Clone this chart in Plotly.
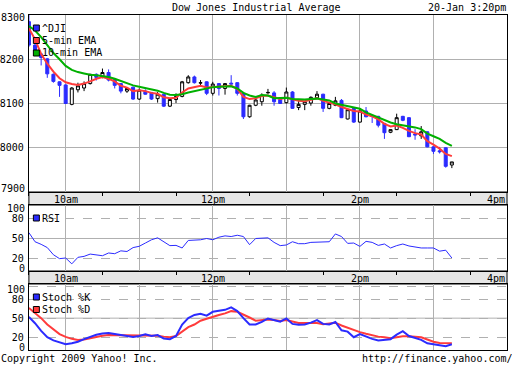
import pandas as pd
import plotly.graph_objects as go

# ---------------- data ----------------
times = pd.date_range("2009-01-20 09:30", periods=70, freq="5min")

opens = [8285, 8232, 8212, 8201, 8166, 8149, 8142, 8098, 8131, 8135,
         8145, 8166, 8160, 8170, 8154, 8145, 8128, 8137, 8110, 8128,
         8125, 8111, 8121, 8094, 8109, 8116, 8147, 8160, 8146, 8149,
         8123, 8145, 8134, 8146, 8147, 8123, 8070, 8096, 8104, 8124,
         8124, 8109, 8102, 8126, 8091, 8098, 8101, 8113, 8121, 8089,
         8096, 8107, 8065, 8089, 8058, 8083, 8073, 8071, 8055, 8035,
         8041, 8071, 8068, 8031, 8027, 8036, 8002, 7993, 8000, 7961]
highs = [8300, 8240, 8214, 8203, 8168, 8150, 8143, 8137, 8147, 8150,
         8167, 8168, 8179, 8177, 8156, 8146, 8137, 8138, 8134, 8132,
         8126, 8126, 8122, 8110, 8123, 8151, 8164, 8163, 8153, 8150,
         8149, 8146, 8146, 8164, 8148, 8124, 8097, 8110, 8123, 8133,
         8128, 8110, 8136, 8128, 8109, 8104, 8116, 8128, 8122, 8101,
         8115, 8110, 8087, 8090, 8089, 8092, 8074, 8072, 8056, 8042,
         8077, 8072, 8069, 8042, 8049, 8037, 8003, 8002, 8001, 7968]
lows = [8228, 8212, 8186, 8158, 8147, 8115, 8099, 8096, 8125, 8128,
        8143, 8152, 8157, 8150, 8134, 8123, 8124, 8108, 8108, 8120,
        8108, 8102, 8092, 8092, 8101, 8114, 8145, 8145, 8138, 8119,
        8118, 8118, 8120, 8143, 8118, 8065, 8068, 8094, 8095, 8122,
        8095, 8099, 8100, 8088, 8085, 8085, 8095, 8112, 8081, 8087,
        8094, 8067, 8064, 8056, 8057, 8069, 8056, 8046, 8020, 8033,
        8040, 8060, 8024, 8018, 8020, 8001, 7986, 7987, 7955, 7954]
closes = [8232, 8220, 8204, 8167, 8150, 8141, 8100, 8135, 8140, 8145,
          8166, 8159, 8170, 8153, 8141, 8128, 8134, 8110, 8130, 8121,
          8110, 8121, 8094, 8109, 8116, 8149, 8160, 8147, 8147, 8123,
          8144, 8134, 8145, 8144, 8123, 8070, 8096, 8108, 8119, 8125,
          8104, 8100, 8126, 8089, 8098, 8104, 8114, 8121, 8089, 8100,
          8106, 8068, 8086, 8058, 8083, 8070, 8071, 8051, 8034, 8041,
          8068, 8062, 8025, 8029, 8036, 8002, 7992, 7991, 7958, 7968]

ema5 = [8270, 8245, 8212, 8190, 8172, 8157, 8148, 8144, 8142, 8145,
        8150, 8156, 8160, 8156, 8150, 8140, 8136, 8128, 8130, 8128,
        8124, 8122, 8114, 8112, 8113, 8125, 8134, 8137, 8140, 8136,
        8137, 8137, 8139, 8140, 8133, 8115, 8110, 8112, 8117, 8118,
        8114, 8110, 8113, 8109, 8106, 8105, 8108, 8112, 8106, 8102,
        8098, 8092, 8088, 8083, 8082, 8075, 8071, 8064, 8054, 8048,
        8050, 8045, 8038, 8033, 8030, 8015, 8007, 7998, 7986, 7981]
ema10 = [8275, 8265, 8250, 8232, 8214, 8200, 8185, 8176, 8171, 8168,
         8165, 8164, 8162, 8160, 8156, 8151, 8146, 8141, 8138, 8135,
         8132, 8129, 8124, 8120, 8119, 8121, 8125, 8128, 8132, 8134,
         8137, 8138, 8139, 8139, 8134, 8124, 8118, 8115, 8119, 8118,
         8112, 8112, 8113, 8110, 8109, 8109, 8110, 8111, 8109, 8107,
         8100, 8097, 8094, 8091, 8088, 8080, 8074, 8069, 8063, 8057,
         8053, 8051, 8049, 8046, 8042, 8032, 8026, 8020, 8011, 8004]

rsi = [59, 45, 41, 36, 25, 19, 20, 11, 21, 22.5,
       26, 25, 23.5, 27.7, 26.6, 31, 30, 36, 38, 43,
       48, 51, 45, 39, 39.4, 35.4, 47, 47, 48, 50,
       48, 52, 54, 53, 55, 53, 40.5, 50, 51, 51,
       44, 39, 40, 45, 42, 42, 44, 44, 44, 45,
       57, 53, 42.5, 43, 37.8, 45.6, 44, 39.4, 41.5, 35.4,
       39, 41.5, 38.5, 36.5, 35.4, 35.4, 35.4, 30.5, 32, 20]

stoch_k = [52, 42, 30, 20, 15, 12.5, 9, 10.5, 13, 17,
           20.5, 24, 26, 26.5, 25, 23.6, 23, 20.5, 22, 24.5,
           22, 23.5, 18, 17, 22, 40, 50, 55, 57, 54,
           60, 61, 63, 67, 61, 50, 40, 40, 44, 49.5,
           47, 44.5, 49.5, 41, 39.5, 40, 43, 47, 41, 40,
           44, 31, 28.8, 20, 25, 21, 17.5, 15, 15.5, 17,
           24, 29.5, 22, 19.5, 16, 10.5, 9, 8, 6, 9]
stoch_d = [66, 58, 50, 40, 32, 25, 20.5, 17.5, 15.8, 16.5,
           18.5, 21, 22.5, 23.6, 23.6, 23.6, 23, 22.5, 22.5, 22.5,
           22.5, 22.5, 21, 20, 22, 29, 36, 40, 46, 49,
           52.5, 55, 57.5, 61, 60, 56, 51, 46, 46.5, 48,
           47, 45.5, 47, 44.5, 42.5, 42.5, 42.7, 42.5, 40.5, 42,
           42.9, 38.5, 35, 31, 28, 25.5, 23, 21, 20, 18.5,
           20, 21.5, 21.5, 21, 20, 16.5, 13, 11, 10.6, 10.6]

main_ticks = [7900, 8000, 8100, 8200, 8300]
osc_ticks = [0, 20, 50, 80, 100]
time_labels = ["10am", "12pm", "2pm", "4pm"]
time_label_at = ["2009-01-20 10:00", "2009-01-20 12:00", "2009-01-20 14:00", "2009-01-20 16:00"]

# ---------------- style ----------------
W, H = 512, 365
BLUE = "#2b2bff"
RED = "#ff3b3b"
GREEN = "#00b000"
GRID = "#b0b0b0"
BAND = "#e6e6e6"
FONT = dict(family="DejaVu Sans Mono", size=10, color="black")


def px(x):
    return x / W


def py(y):
    return 1 - y / H


X0, X1 = 27, 507
panels = {"main": (15, 192), "rsi": (205, 271), "sto": (284, 350)}

fig = go.Figure()
fig.add_trace(go.Candlestick(
    x=times, open=opens, high=highs, low=lows, close=closes,
    increasing=dict(line=dict(color="black", width=1), fillcolor="white"),
    decreasing=dict(line=dict(color=BLUE, width=1), fillcolor=BLUE),
    whiskerwidth=0, showlegend=False, xaxis="x", yaxis="y", hoverinfo="skip"))
fig.add_trace(go.Scatter(x=times, y=ema5, mode="lines", line=dict(color=RED, width=2),
                         showlegend=False, xaxis="x", yaxis="y"))
fig.add_trace(go.Scatter(x=times, y=ema10, mode="lines", line=dict(color=GREEN, width=2),
                         showlegend=False, xaxis="x", yaxis="y"))
fig.add_trace(go.Scatter(x=times, y=rsi, mode="lines", line=dict(color=BLUE, width=1),
                         showlegend=False, xaxis="x2", yaxis="y2"))
fig.add_trace(go.Scatter(x=times, y=stoch_d, mode="lines", line=dict(color=RED, width=2),
                         showlegend=False, xaxis="x3", yaxis="y3"))
fig.add_trace(go.Scatter(x=times, y=stoch_k, mode="lines", line=dict(color=BLUE, width=2),
                         showlegend=False, xaxis="x3", yaxis="y3"))

xrange = ["2009-01-20 09:30", "2009-01-20 16:00"]
xcommon = dict(type="date", range=xrange, domain=[px(X0), px(X1)], showgrid=True,
               gridcolor=GRID, gridwidth=1, dtick=3600000, tick0="2009-01-20 10:00",
               showticklabels=False, ticks="", showline=True, linecolor="black",
               linewidth=1, mirror=True, zeroline=False, fixedrange=True,
               rangeslider=dict(visible=False))
minor_ticks = dict(dtick=1800000, tick0="2009-01-20 09:30", ticks="outside", ticklen=3,
                   tickcolor="black", tickwidth=1, showgrid=False)
ycommon = dict(showgrid=True, gridcolor=GRID, gridwidth=1, showline=True, linecolor="black",
               linewidth=1, mirror=True, zeroline=False, ticks="", tickfont=FONT,
               fixedrange=True, ticklabelstandoff=2)
# decorative tick axes: half-hour ticks inside the top edge, value ticks outside the right edge
xtop = dict(type="date", range=xrange, side="top", dtick=3600000, tick0="2009-01-20 09:30",
            ticks="inside", ticklen=3, tickcolor="black", showticklabels=False,
            showgrid=False, showline=False, zeroline=False, fixedrange=True)
yright = dict(side="right", ticks="outside", ticklen=3, tickcolor="black",
              showticklabels=False, showgrid=False, showline=False, zeroline=False,
              fixedrange=True)


def inner(vals):
    return [v if 0 < i < len(vals) - 1 else "" for i, v in enumerate(vals)]


fig.update_layout(
    width=W, height=H, margin=dict(l=0, r=0, t=0, b=0),
    paper_bgcolor="white", plot_bgcolor="white", showlegend=False,
    xaxis=dict(xcommon, anchor="y", minor=minor_ticks),
    xaxis2=dict(xcommon, anchor="y2", minor=minor_ticks),
    xaxis3=dict(xcommon, anchor="y3"),
    yaxis=dict(ycommon, anchor="x", domain=[py(panels["main"][1]), py(panels["main"][0])],
               range=[7900, 8300], tickvals=main_ticks, ticktext=inner(main_ticks)),
    yaxis2=dict(ycommon, anchor="x2", domain=[py(panels["rsi"][1]), py(panels["rsi"][0])],
                range=[0, 101.5], tickvals=osc_ticks, ticktext=inner(osc_ticks), griddash="dash"),
    yaxis3=dict(ycommon, anchor="x3", domain=[py(panels["sto"][1]), py(panels["sto"][0])],
                range=[0, 103.6], tickvals=osc_ticks, ticktext=inner(osc_ticks), griddash="dash"),
    xaxis4=dict(xtop, overlaying="x", anchor="y"),
    xaxis5=dict(xtop, overlaying="x2", anchor="y2"),
    xaxis6=dict(xtop, overlaying="x3", anchor="y3"),
    yaxis4=dict(yright, overlaying="y", anchor="x", range=[7900, 8300], tickvals=main_ticks[1:-1]),
    yaxis5=dict(yright, overlaying="y2", anchor="x2", range=[0, 101.5], tickvals=osc_ticks[1:-1]),
    yaxis6=dict(yright, overlaying="y3", anchor="x3", range=[0, 103.6], tickvals=osc_ticks[1:-1]),
)

shapes = []
# solid 50 lines on oscillators
for xa, ya in (("x2", "y2"), ("x3", "y3")):
    shapes.append(dict(type="line", xref=f"{xa} domain", yref=ya, x0=0, x1=1, y0=50, y1=50,
                       line=dict(color=GRID, width=1), layer="below"))
# time bands
for top, bot in ((192, 205), (271, 284)):
    shapes.append(dict(type="rect", xref="paper", yref="paper", x0=px(X0), x1=px(X1),
                       y0=py(bot), y1=py(top), fillcolor=BAND,
                       line=dict(color="black", width=1), layer="below"))
annotations = []
for top, bot in ((192, 205), (271, 284)):
    for lab, t in zip(time_labels, time_label_at):
        last = lab == time_labels[-1]
        annotations.append(dict(text=lab, x=t, xref="x", y=py((top + bot) / 2 + 0.5), yref="paper",
                                xanchor="center", yanchor="middle",
                                showarrow=False, font=FONT, xshift=-11 if last else 0))

# end-of-axis value labels, pulled inside the panel like the original
for ya, vals in (("y", main_ticks), ("y2", osc_ticks), ("y3", osc_ticks)):
    for v, shift in ((vals[0], 3), (vals[-1], -3)):
        annotations.append(dict(text=str(v), x=px(25), xref="paper", y=v, yref=ya,
                                xanchor="right", yanchor="middle", yshift=shift,
                                showarrow=False, font=FONT))

# legends (square + label)
legend_items = [("^DJI", BLUE, 28), ("5-min EMA", RED, 40.5), ("10-min EMA", GREEN, 53),
                ("RSI", BLUE, 218), ("Stoch %K", BLUE, 297), ("Stoch %D", RED, 309.5)]
for lab, col, yc in legend_items:
    shapes.append(dict(type="rect", xref="paper", yref="paper", x0=px(31.5), x1=px(37.5),
                       y0=py(yc + 3), y1=py(yc - 3), fillcolor=col,
                       line=dict(color="black", width=1), layer="above"))
    annotations.append(dict(text=lab, x=px(40 + 3 * len(lab)), y=py(yc), xref="paper", yref="paper",
                            xanchor="center", yanchor="middle", showarrow=False, font=FONT))

annotations += [
    dict(text="Dow Jones Industrial Average", x=px(255), y=py(7), xref="paper", yref="paper",
         xanchor="center", yanchor="middle", showarrow=False, font=FONT),
    dict(text="20-Jan 3:20pm", x=px(466.5), y=py(7), xref="paper", yref="paper",
         xanchor="center", yanchor="middle", showarrow=False, font=FONT),
    dict(text="Copyright 2009 Yahoo! Inc.", x=px(77.5), y=py(358), xref="paper", yref="paper",
         xanchor="center", yanchor="middle", showarrow=False, font=FONT),
    dict(text="http://finance.yahoo.com/", x=px(437), y=py(358), xref="paper", yref="paper",
         xanchor="center", yanchor="middle", showarrow=False, font=FONT),
]
fig.update_layout(shapes=shapes, annotations=annotations)

post = ("document.documentElement.style.margin='0';document.body.style.margin='0';"
        "document.body.style.padding='0';document.documentElement.style.overflow='hidden';"
        "document.body.style.overflow='hidden';"
        "var d=document.getElementById('{plot_id}');d.style.position='fixed';"
        "d.style.left='0px';d.style.top='0px';")
fig.write_html("out.html", config={"displayModeBar": False, "staticPlot": True}, post_script=post)
